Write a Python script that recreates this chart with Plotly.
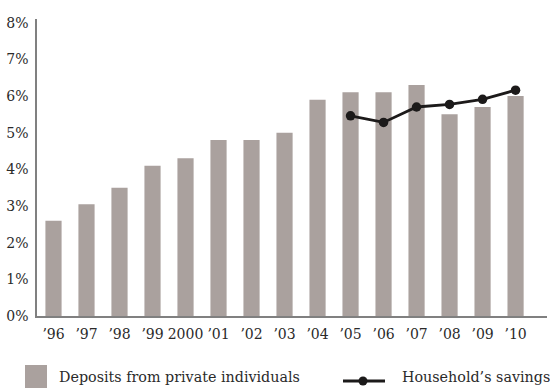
import plotly.graph_objects as go

# Year labels for the x axis
years = ["\u201996", "\u201997", "\u201998", "\u201999", "2000", "\u201901", "\u201902",
         "\u201903", "\u201904", "\u201905", "\u201906", "\u201907", "\u201908", "\u201909", "\u201910"]

# Deposits from private individuals, % (bars)
deposits = [2.6, 3.05, 3.5, 4.1, 4.3, 4.8, 4.8, 5.0, 5.9, 6.1, 6.1, 6.3, 5.5, 5.7, 6.0]

# Household's savings, % (line), available from 2005 onward
savings_years = ["\u201905", "\u201906", "\u201907", "\u201908", "\u201909", "\u201910"]
savings = [5.46, 5.28, 5.7, 5.77, 5.91, 6.16]

y_ticks = [0, 1, 2, 3, 4, 5, 6, 7, 8]
y_tick_text = [f"{v}%" for v in y_ticks]

bar_name = "Deposits from private individuals"
line_name = "Household\u2019s savings"

font_family = "DejaVu Serif"
text_color = "#2a2a2a"
axis_color = "#808080"
bar_color = "#aaa19e"
line_color = "#1c1a1a"

W, H = 550, 389
M_L, M_R, M_T, M_B = 37, 3, 19, 73
PLOT_W = W - M_L - M_R
PLOT_H = H - M_T - M_B


def px_x(px):
    """Pixel column -> paper x."""
    return (px - M_L) / PLOT_W


def px_y(py):
    """Pixel row (from top) -> paper y."""
    return (H - M_B - py) / PLOT_H


fig = go.Figure()

fig.add_trace(go.Bar(
    x=years,
    y=deposits,
    name=bar_name,
    marker=dict(color=bar_color, line=dict(width=0)),
    showlegend=False,
))

fig.add_trace(go.Scatter(
    x=savings_years,
    y=savings,
    mode="lines+markers",
    name=line_name,
    line=dict(color=line_color, width=2.8),
    marker=dict(color=line_color, size=9.5),
    showlegend=False,
))

# Legend keys drawn below the plot
shapes = [
    dict(type="rect", xref="paper", yref="paper",
         x0=px_x(25), x1=px_x(47), y0=px_y(388), y1=px_y(365),
         fillcolor=bar_color, line=dict(width=0), layer="above"),
    dict(type="line", xref="paper", yref="paper",
         x0=px_x(343), x1=px_x(385), y0=px_y(381), y1=px_y(381),
         line=dict(color=line_color, width=2.8), layer="above"),
    dict(type="circle", xref="paper", yref="paper",
         x0=px_x(358.5), x1=px_x(367.5), y0=px_y(385.5), y1=px_y(376.5),
         fillcolor=line_color, line=dict(width=0), layer="above"),
]

annotations = [
    dict(text=bar_name, xref="paper", yref="paper",
         x=px_x(57), y=px_y(377), xanchor="left", yanchor="middle",
         showarrow=False, font=dict(family=font_family, size=14.3, color=text_color)),
    dict(text=line_name, xref="paper", yref="paper",
         x=px_x(400), y=px_y(377), xanchor="left", yanchor="middle",
         showarrow=False, font=dict(family=font_family, size=14.3, color=text_color)),
]

fig.update_layout(
    width=W,
    height=H,
    margin=dict(l=M_L, r=M_R, t=M_T, b=M_B),
    paper_bgcolor="white",
    plot_bgcolor="white",
    font=dict(family=font_family, size=14, color=text_color),
    bargap=0.51,
    showlegend=False,
    shapes=shapes,
    annotations=annotations,
    xaxis=dict(
        type="category",
        categoryorder="array",
        categoryarray=years,
        showline=True,
        linecolor=axis_color,
        linewidth=1.5,
        showgrid=False,
        ticks="",
        ticklabelstandoff=4,
        tickfont=dict(family=font_family, size=14, color=text_color),
    ),
    yaxis=dict(
        range=[0, 8.1],
        tickvals=y_ticks,
        ticktext=y_tick_text,
        showline=True,
        linecolor=axis_color,
        linewidth=1.5,
        showgrid=False,
        zeroline=False,
        ticks="",
        ticklabelstandoff=4,
        tickfont=dict(family=font_family, size=14, color=text_color),
    ),
)

fig.write_html("out.html")
